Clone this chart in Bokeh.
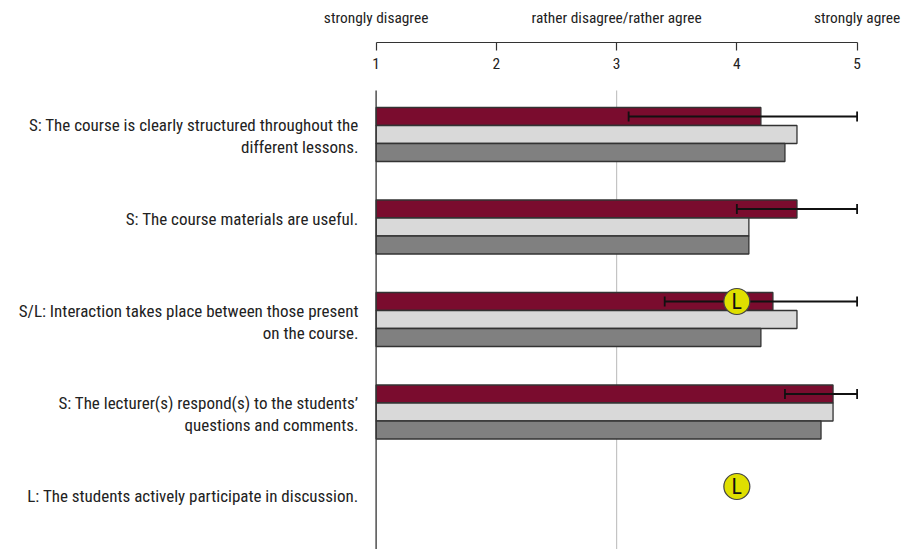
from bokeh.plotting import figure
from bokeh.models import ColumnDataSource, Range1d, LinearAxis, FixedTicker, Whisker, TeeHead
from bokeh.core.properties import value
from bokeh.embed import file_html
from bokeh.resources import INLINE

FONT = "'Roboto Condensed','Liberation Sans Narrow','DejaVu Sans Condensed',Roboto,sans-serif"
rows = [0, 1, 2, 3, 4]
questions = [
    "S: The course is clearly structured throughout the\ndifferent lessons.",
    "S: The course materials are useful.",
    "S/L: Interaction takes place between those present\non the course.",
    "S: The lecturer(s) respond(s) to the students\u2019\nquestions and comments.",
    "L: The students actively participate in discussion.",
]
label_shift = [1, -8, 2, 1.5, -9]
bar_rows = [0, 1, 2, 3]
series_a = [4.2, 4.5, 4.3, 4.8]
series_b = [4.5, 4.1, 4.5, 4.8]
series_c = [4.4, 4.1, 4.2, 4.7]
err_low = [3.1, 4.0, 3.4, 4.4]
err_high = [5.0, 5.0, 5.0, 5.0]
lect_rows = [2, 4]
lect_vals = [4.0, 4.0]
ticks = [1, 2, 3, 4, 5]
scale_x = [1, 3, 5]
scale_labels = ["strongly disagree", "rather disagree/rather agree", "strongly agree"]

W, H = 913, 549
PITCH = 92.5
X_PER_PX = 4 / 481
def py(page_px):
    return (page_px - 134) / PITCH

p = figure(width=W, height=H, output_backend="svg", toolbar_location=None,
           x_axis_type=None, y_axis_type=None, min_border=0, outline_line_color=None,
           x_range=Range1d(1 - 375.6 * X_PER_PX, 1 + (W - 375.6) * X_PER_PX),
           y_range=Range1d(py(H), py(0)))
p.grid.visible = False
p.background_fill_color = "white"

p.segment(x0=[3], x1=[3], y0=[py(90)], y1=[py(549)], line_color="#c4c4c4", line_width=1.2)

bh = 18 / PITCH
for vals, off, col in [(series_a, -bh, "#7a0c2e"), (series_b, 0, "#d9d9d9"), (series_c, bh, "#808080")]:
    p.hbar(y=[r + off for r in bar_rows], left=1, right=vals, height=bh,
           fill_color=col, line_color="#333333", line_width=1.3)

p.segment(x0=[1], x1=[1], y0=[py(90)], y1=[py(549)], line_color="#333333", line_width=1.3)

src = ColumnDataSource(dict(base=[r - bh for r in bar_rows], lower=err_low, upper=err_high))
w = Whisker(source=src, base="base", lower="lower", upper="upper", dimension="width",
            line_color="#111111", line_width=1.8, level="annotation",
            lower_head=TeeHead(size=10, line_color="#111111", line_width=1.8),
            upper_head=TeeHead(size=10, line_color="#111111", line_width=1.8))
p.add_layout(w)

c = p.scatter(lect_vals, [r - bh for r in lect_rows], size=26, marker="circle",
              fill_color="#dfdf00", line_color="#444444", line_width=1.2)
c.level = "overlay"
t = p.text(lect_vals, [r - bh for r in lect_rows], text=["L"] * len(lect_rows), text_align="center",
           text_baseline="middle", text_font=value(FONT), text_font_size="22px", text_color="#111111")
t.level = "overlay"

p.text([1 - 17.6 * X_PER_PX] * len(rows), [r + s / PITCH for r, s in zip(rows, label_shift)], text=questions,
       text_align="right", text_baseline="middle", text_font=value(FONT), text_font_size="17px",
       text_color="#222222", text_line_height=1.1)

p.text(scale_x, [py(17)] * 3, text=scale_labels, text_align="center", text_baseline="middle",
       text_font=value(FONT), text_font_size="15.4px", text_color="#222222")

ax = LinearAxis(fixed_location=py(42), bounds=(1, 5), ticker=FixedTicker(ticks=ticks),
                axis_line_color="#333333", axis_line_width=1.2,
                major_tick_line_color="#333333", major_tick_line_width=1.2,
                major_tick_in=0, major_tick_out=8, minor_tick_line_color=None,
                major_label_standoff=7, major_label_text_font=FONT,
                major_label_text_font_size="15.4px", major_label_text_color="#222222")
p.add_layout(ax, "below")

open("out.html", "w").write(file_html(p, INLINE))
